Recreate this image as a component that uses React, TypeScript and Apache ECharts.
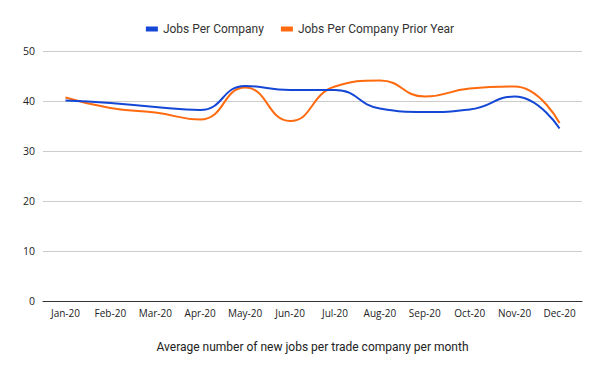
import React, { useEffect, useRef } from "react";
import * as echarts from "echarts";

const months = ["Jan-20", "Feb-20", "Mar-20", "Apr-20", "May-20", "Jun-20", "Jul-20", "Aug-20", "Sep-20", "Oct-20", "Nov-20", "Dec-20"];
const jobsPerCompany = [40.1, 39.6, 38.8, 38.2, 43.0, 42.2, 42.2, 38.5, 37.8, 38.3, 40.9, 34.5];
const jobsPriorYear = [40.7, 38.6, 37.7, 36.3, 42.7, 36.0, 42.9, 44.1, 40.9, 42.5, 42.9, 35.6];
const seriesNames = ["Jobs Per Company", "Jobs Per Company Prior Year"];
const xTitle = "Average number of new jobs per trade company per month";

export default function App() {
  const ref = useRef<HTMLDivElement>(null);
  useEffect(() => {
    if (!ref.current) return;
    const chart = echarts.init(ref.current, null, { renderer: "svg" });
    chart.setOption({
      animation: false,
      backgroundColor: "#ffffff",
      legend: {
        top: 18,
        left: "center",
        itemWidth: 12,
        itemHeight: 5,
        itemGap: 17,
        icon: "rect",
        textStyle: { fontFamily: "Roboto", fontSize: 12, color: "#333" },
        data: seriesNames,
      },
      grid: { left: 43, right: 18, top: 51, bottom: 70 },
      xAxis: {
        type: "category",
        data: months,
        boundaryGap: true,
        axisLine: { lineStyle: { color: "#333", width: 1 } },
        axisTick: { show: false },
        axisLabel: { fontFamily: "Open Sans", fontSize: 10, color: "#222", margin: 7, interval: 0 },
        name: xTitle,
        nameLocation: "middle",
        nameGap: 40,
        nameTextStyle: { fontFamily: "Roboto", fontSize: 12, color: "#222" },
      },
      yAxis: {
        type: "value",
        min: 0,
        max: 50,
        interval: 10,
        axisLine: { show: false },
        axisTick: { show: false },
        axisLabel: { fontFamily: "Open Sans", fontSize: 10.5, color: "#222", margin: 8 },
        splitLine: { lineStyle: { color: "#cccccc", width: 1 } },
      },
      series: [
        {
          name: seriesNames[0],
          type: "line",
          data: jobsPerCompany,
          smooth: 0.5,
          showSymbol: false,
          symbol: "none",
          lineStyle: { color: "#1447d6", width: 2 },
          itemStyle: { color: "#1447d6" },
          z: 3,
        },
        {
          name: seriesNames[1],
          type: "line",
          data: jobsPriorYear,
          smooth: 0.5,
          showSymbol: false,
          symbol: "none",
          lineStyle: { color: "#ff6a0f", width: 2 },
          itemStyle: { color: "#ff6a0f" },
          z: 2,
        },
      ],
    });
    return () => chart.dispose();
  }, []);
  return <div ref={ref} style={{ position: "fixed", left: 0, top: 0, width: 600, height: 371 }} />;
}
